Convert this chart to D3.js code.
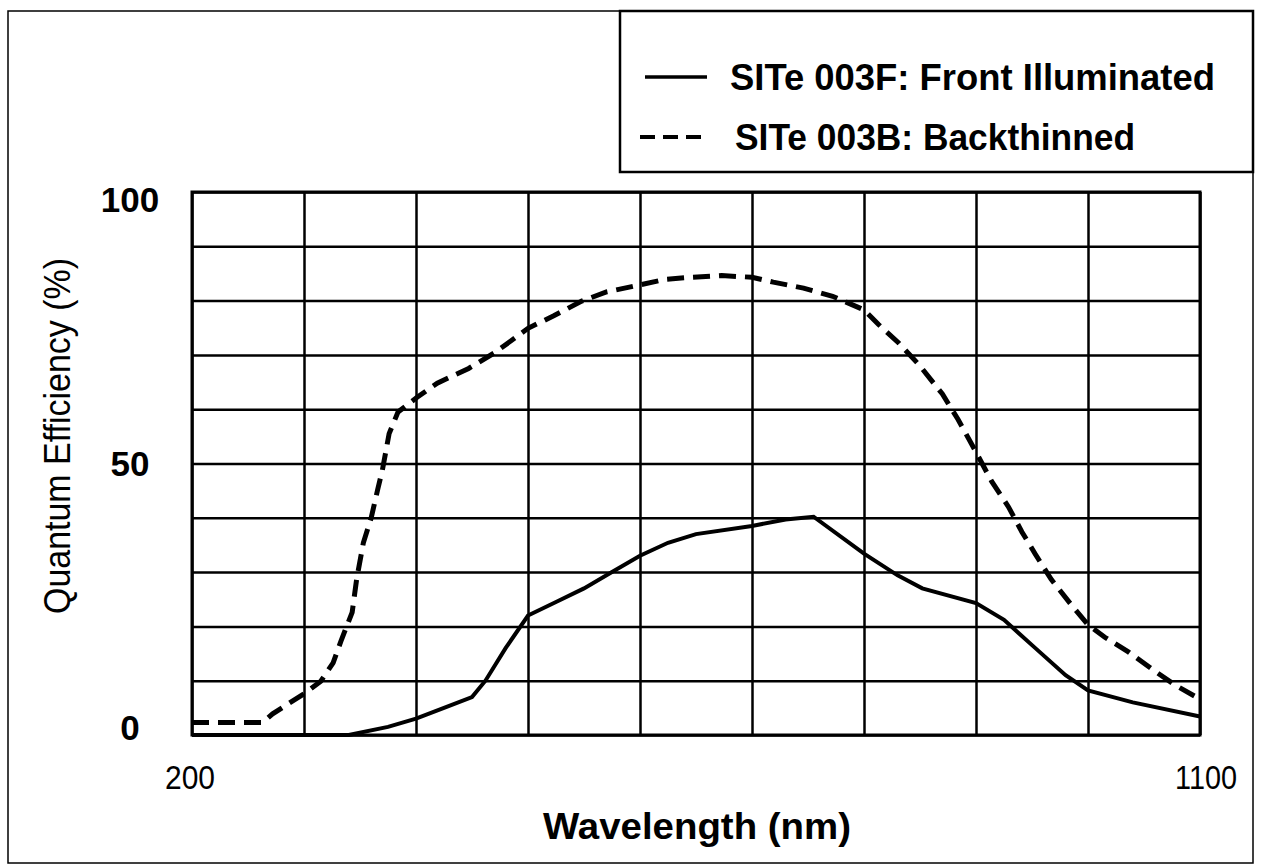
<!DOCTYPE html>
<html>
<head>
<meta charset="utf-8">
<script src="https://cdn.jsdelivr.net/npm/d3@7"></script>
<style>
  body { margin: 0; background: #fff; }
  svg { display: block; }
  text { fill: #000; }
</style>
</head>
<body>
<svg width="1266" height="866"></svg>
<script>
// wavelength (nm) vs quantum efficiency (%)
var frontWave = [200, 340, 375, 400, 425, 450, 462, 480, 500, 525, 550, 575, 600, 625, 650, 700, 730, 755, 800, 830, 852, 900, 925, 953, 980, 1000, 1040, 1100];
var frontQE   = [0, 0, 1.5, 3, 5, 7, 10, 16, 22, 24.5, 27, 30, 33, 35.4, 37, 38.5, 39.7, 40.2, 33.4, 29.4, 27, 24.3, 21.2, 16, 11, 8.2, 6, 3.4];

var backWave = [200, 263, 272, 300, 315, 326, 333, 343, 347, 353, 360, 366, 370, 376, 384, 401, 419, 447, 471, 500, 523, 548, 570, 600, 622, 646, 673, 700, 719, 746, 772, 800, 813, 831, 849, 870, 884, 900, 914, 929, 941, 953, 967, 985, 1000, 1015, 1036, 1056, 1077, 1100];
var backQE   = [2.3, 2.3, 3.9, 7.6, 9.9, 13.3, 17.3, 22.6, 28.7, 35.4, 40, 45.4, 48.8, 55.5, 59.5, 62.2, 64.8, 67.5, 70.5, 74.9, 77.2, 79.9, 81.6, 82.9, 83.9, 84.3, 84.6, 84.3, 83.4, 82.3, 80.8, 78.3, 75.6, 72.2, 68.2, 62.8, 58.1, 52.1, 46.7, 42, 37.4, 33.3, 28.7, 24, 20.3, 18, 15.3, 12.3, 9.3, 6.6];

var xTickLabels = [200, 1100];
var yTickLabels = [0, 50, 100];
var legendNames = ["SITe 003F: Front Illuminated", "SITe 003B: Backthinned"];

var svg = d3.select("svg");

var x = d3.scaleLinear().domain([200, 1100]).range([192, 1200]);
var y = d3.scaleLinear().domain([0, 100]).range([735, 192]);
// labels sit a bit inside the ends of the axis in the original
var yLab = d3.scaleLinear().domain([0, 100]).range([727, 199]);

// outer frame
svg.append("rect")
    .attr("x", 8).attr("y", 11)
    .attr("width", 1245).attr("height", 852)
    .attr("fill", "none").attr("stroke", "#000").attr("stroke-width", 1.5);

// grid
var g = svg.append("g");
g.append("g")
    .attr("transform", "translate(0,735)")
    .call(d3.axisBottom(x).ticks(9).tickSize(-543).tickFormat(""))
    .call(a => a.select(".domain").remove());
g.append("g")
    .attr("transform", "translate(192,0)")
    .call(d3.axisLeft(y).ticks(10).tickSize(-1008).tickFormat(""))
    .call(a => a.select(".domain").remove());
g.selectAll(".tick line").attr("stroke", "#000").attr("stroke-width", 2.5);
g.append("rect")
    .attr("x", 192).attr("y", 192).attr("width", 1008).attr("height", 543)
    .attr("fill", "none").attr("stroke", "#000").attr("stroke-width", 3);

// tick labels
svg.append("g").selectAll("text")
    .data(yTickLabels).enter().append("text")
    .attr("x", 130).attr("y", d => yLab(d)).attr("dy", "0.36em")
    .attr("text-anchor", "middle")
    .style("font", "bold 35px 'Liberation Sans', Arial, sans-serif")
    .text(d => d);

svg.append("g").selectAll("text")
    .data(xTickLabels).enter().append("text")
    .attr("x", (d, i) => x(d) + (i ? 6 : -2)).attr("y", 789)
    .attr("text-anchor", "middle")
    .attr("textLength", (d, i) => i ? 62 : 50)
    .attr("lengthAdjust", "spacingAndGlyphs")
    .style("font-family", "'Liberation Sans Narrow', 'Liberation Sans', Arial, sans-serif")
    .style("font-size", "33px")
    .text(d => d);

// axis titles
svg.append("text")
    .attr("x", 697).attr("y", 839)
    .attr("text-anchor", "middle")
    .attr("textLength", 308)
    .attr("lengthAdjust", "spacingAndGlyphs")
    .style("font", "bold 37px 'Liberation Sans', Arial, sans-serif")
    .text("Wavelength (nm)");

svg.append("text")
    .attr("transform", "translate(70,436) rotate(-90)")
    .attr("text-anchor", "middle")
    .attr("textLength", 356)
    .attr("lengthAdjust", "spacingAndGlyphs")
    .style("font", "37px 'Liberation Sans', Arial, sans-serif")
    .text("Quantum Efficiency (%)");

// curves
var line = d3.line()
    .x(d => x(d[0]))
    .y(d => y(d[1]));

var front = frontWave.map((w, i) => [w, frontQE[i]]);
var back = backWave.map((w, i) => [w, backQE[i]]);

svg.append("path")
    .datum(back)
    .attr("d", line)
    .attr("fill", "none").attr("stroke", "#000")
    .attr("stroke-width", 5)
    .attr("stroke-dasharray", "17,9");

svg.append("path")
    .datum(front)
    .attr("d", line)
    .attr("fill", "none").attr("stroke", "#000")
    .attr("stroke-width", 4);

// legend
var leg = svg.append("g");
leg.append("rect")
    .attr("x", 620).attr("y", 11).attr("width", 633).attr("height", 161)
    .attr("fill", "#fff").attr("stroke", "#000").attr("stroke-width", 2.5);

leg.selectAll("line")
    .data(legendNames).enter().append("line")
    .attr("x1", (d, i) => i ? 640 : 645).attr("x2", 707)
    .attr("y1", (d, i) => i ? 137 : 77).attr("y2", (d, i) => i ? 137 : 77)
    .attr("stroke", "#000")
    .attr("stroke-width", (d, i) => i ? 4 : 3.5)
    .attr("stroke-dasharray", (d, i) => i ? "15,8" : null);

leg.selectAll("text")
    .data(legendNames).enter().append("text")
    .attr("x", (d, i) => i ? 735 : 730)
    .attr("y", (d, i) => i ? 150 : 90)
    .attr("textLength", (d, i) => i ? 400 : 485)
    .attr("lengthAdjust", "spacingAndGlyphs")
    .style("font", "bold 36px 'Liberation Sans', Arial, sans-serif")
    .text(d => d);
</script>
</body>
</html>
